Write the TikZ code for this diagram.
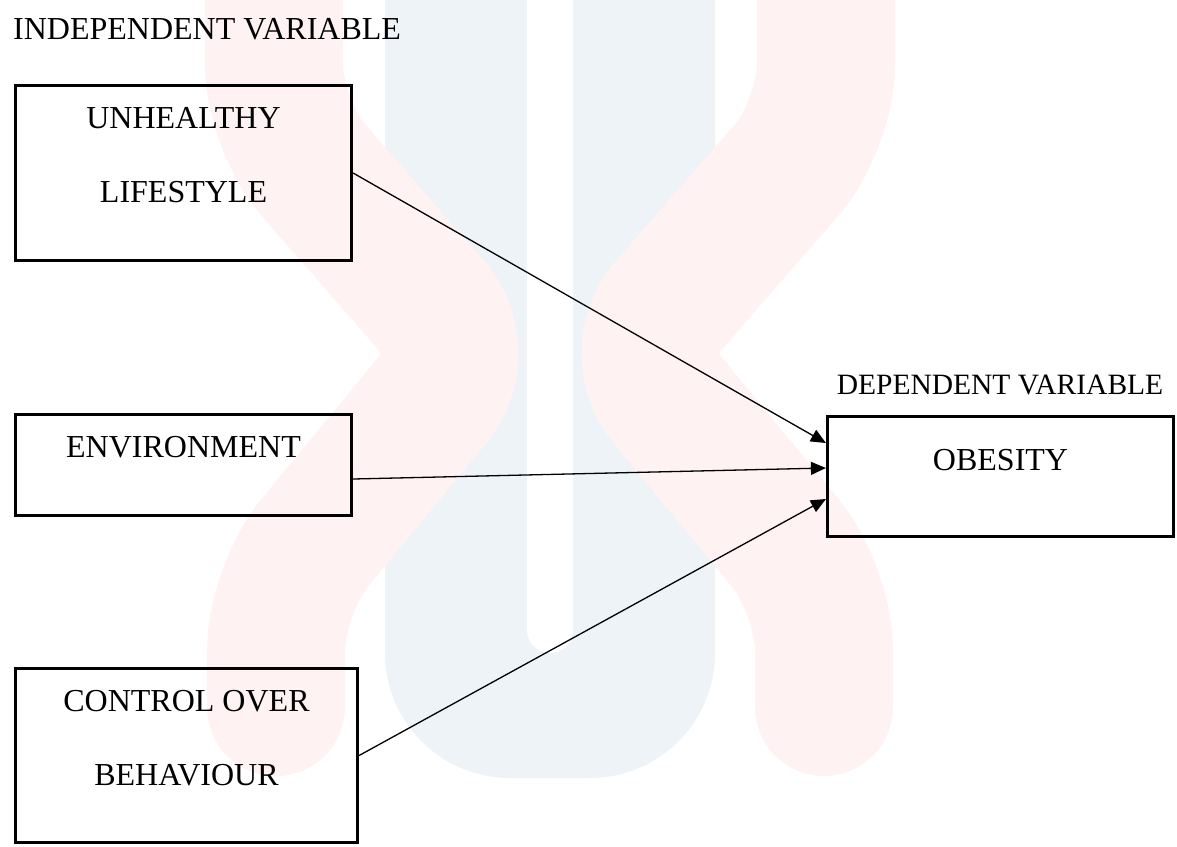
\documentclass[tikz,border=0pt]{standalone}
\usepackage{fontspec}
\setmainfont{Liberation Serif}
\usetikzlibrary{arrows.meta}
\definecolor{wmred}{RGB}{254,242,242}
\definecolor{wmblue}{RGB}{238,243,247}
\tikzset{
  varbox/.style={draw, line width=3.2pt, minimum width=336pt, inner sep=0pt},
  conn/.style={line width=1.3pt, -{Triangle[length=15pt,width=13pt]}},
  twoline/.style={align=center, font=\fontsize{32}{74}\selectfont},
}
\begin{document}
\begin{tikzpicture}[x=1pt, y=-1pt, every node/.style={font=\fontsize{32}{38}\selectfont, inner sep=0pt}]
            \useasboundingbox (0,0) rectangle (1177,846);

            % watermark
            \fill[wmblue] (385,-10) -- (385,653) arc[start angle=180, end angle=90, radius=125]
            -- (590,778) arc[start angle=90, end angle=0, radius=125] -- (715,-10) -- cycle;
            \foreach \s in {1,-1} {
                    \draw[wmred, line width=138pt, line cap=round, line join=round, rounded corners=60pt]
                    ({550+276*\s},-80) -- ({550+276*\s},125) -- ({550+78*\s},352)
                    -- ({550+274*\s},590) -- ({550+274*\s},707);
                }
            \fill[white] (527,-10) -- (527,630) arc[start angle=180, end angle=0, radius=23] -- (573,-10) -- cycle;

            \node[anchor=west] (indep) at (13,29) {INDEPENDENT VARIABLE};

            \node[varbox, minimum height=175pt] (unhealthy) at (183.5,173) {};
            \node[twoline] (unhealthy-txt) at (183.5,155) {UNHEALTHY\\LIFESTYLE};

            \node[varbox, minimum height=101pt] (environment) at (183.5,465) {};
            \node (environment-txt) at (183.5,447) {ENVIRONMENT};

            \node[varbox, minimum width=342pt, minimum height=174pt] (control) at (186.5,755.5) {};
            \node[twoline] (control-txt) at (186.5,738) {CONTROL OVER\\BEHAVIOUR};

            \node[font=\fontsize{29.5}{36}\selectfont] (dep) at (1000,385) {DEPENDENT VARIABLE};
            \node[varbox, minimum width=346pt, minimum height=120pt] (obesity) at (1000.5,476.5) {};
            \node (obesity-txt) at (1000.5,460) {OBESITY};

            \draw[conn] (unhealthy.east) -- ([yshift=33.5pt]obesity.west);
            \draw[conn] ([yshift=-14pt]environment.east) -- ([yshift=8.5pt]obesity.west);
            \draw[conn] (control.east) -- ([yshift=-22.5pt]obesity.west);
        \end{tikzpicture}
\end{document}
